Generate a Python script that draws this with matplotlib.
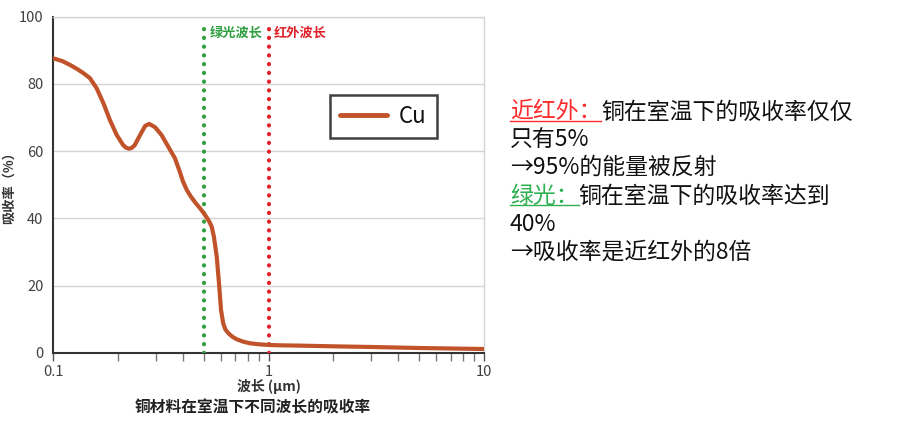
import matplotlib
matplotlib.use("Agg")
import matplotlib.pyplot as plt
from matplotlib.lines import Line2D

plt.rcParams['font.family'] = ['Noto Sans CJK SC', 'DejaVu Sans']

# ---- data ----
wavelength = [0.100, 0.110, 0.120, 0.130, 0.138, 0.148, 0.159, 0.171, 0.183, 0.197,
              0.211, 0.218, 0.225, 0.232, 0.239, 0.253, 0.267, 0.279, 0.297, 0.318,
              0.342, 0.367, 0.385, 0.400, 0.417, 0.435, 0.460, 0.480, 0.500, 0.515,
              0.530, 0.544, 0.557, 0.574, 0.588, 0.601, 0.615, 0.630, 0.650, 0.680,
              0.711, 0.760, 0.819, 0.900, 1.00, 1.13, 1.40, 2.0, 3.0, 5.0, 7.0, 10.0]
absorption = [87.6, 86.8, 85.6, 84.3, 83.2, 81.7, 78.7, 74.2, 69.3, 64.8,
              61.8, 61.0, 60.7, 61.0, 61.8, 64.8, 67.5, 68.1, 67.1, 64.8,
              61.3, 57.9, 54.2, 51.0, 48.4, 46.5, 44.4, 43.0, 41.5, 40.3,
              39.0, 37.5, 34.5, 28.6, 20.7, 12.7, 8.75, 6.9, 5.8, 4.7,
              4.0, 3.3, 2.8, 2.5, 2.3, 2.2, 2.1, 1.9, 1.7, 1.4, 1.25, 1.1]
green_wl = 0.5
ir_wl = 1.0
yticks = [0, 20, 40, 60, 80, 100]
xticks = [0.1, 1, 10]
xticklabels = ['0.1', '1', '10']

W, H = 904, 426
fig = plt.figure(figsize=(W / 100, H / 100), dpi=100)
ax = fig.add_axes([53.3 / W, 1 - 352.7 / H, (484 - 53.3) / W, (352.7 - 16.7) / H])

curve_color = '#C0532A'
green = '#2E9E3E'
red = '#E0202A'

ax.plot(wavelength, absorption, color=curve_color, lw=3.0, solid_capstyle='round',
        solid_joinstyle='round', zorder=4, label='Cu')
ax.axvline(green_wl, ymax=0.985, color=green, lw=3.0, linestyle=(0, (0.05, 2.05)),
           dash_capstyle='round', zorder=3)
ax.axvline(ir_wl, ymax=0.985, color=red, lw=3.0, linestyle=(0, (0.05, 2.05)),
           dash_capstyle='round', zorder=3)

ax.set_xscale('log')
ax.set_xlim(0.1, 10)
ax.set_ylim(0, 100)
ax.set_yticks(yticks)
ax.set_xticks(xticks)
ax.set_xticklabels(xticklabels)
ax.grid(axis='y', color='#d4d4d4', lw=1.0)
ax.set_axisbelow(True)

for s in ['left', 'bottom']:
    ax.spines[s].set_color('#333333')
    ax.spines[s].set_linewidth(1.5)
for s in ['top', 'right']:
    ax.spines[s].set_color('#d4d4d4')
    ax.spines[s].set_linewidth(1.0)

ax.tick_params(axis='y', length=0, pad=7, labelsize=10.5, labelcolor='#404040')
ax.tick_params(axis='x', which='major', length=6, width=1, color='#555555',
               pad=3, labelsize=10.5, labelcolor='#404040', direction='out')
ax.tick_params(axis='x', which='minor', length=6, width=1, color='#777777', direction='out')
ax.xaxis.set_minor_formatter(matplotlib.ticker.NullFormatter())

ax.set_xlabel('波长 (μm)', fontsize=10, fontweight='bold', color='#333333', labelpad=0)
ax.set_ylabel('吸收率（%）', fontsize=9.5, fontweight='bold', color='#333333', labelpad=2)

ax.text(0.53, 95.1, '绿光波长', color=green, fontsize=9.5, fontweight='bold',
        ha='left', va='center')
ax.text(1.06, 95.1, '红外波长', color=red, fontsize=9.5, fontweight='bold',
        ha='left', va='center')

leg = ax.legend(loc='upper left', bbox_to_anchor=((330 - 53.3) / (484 - 53.3),
                                                  1 - (95 - 16.7) / (352.7 - 16.7)),
                fontsize=16, frameon=True, fancybox=False, handlelength=2.1,
                handletextpad=0.55, borderpad=0.45, borderaxespad=0)
leg.get_frame().set_edgecolor('#111111')
leg.get_frame().set_linewidth(1.8)
for t in leg.get_texts():
    t.set_color('#111111')
for h in leg.get_lines():
    h.set_linewidth(3.5)

fig.text(253 / W, 1 - 407 / H, '铜材料在室温下不同波长的吸收率', fontsize=11.3,
         fontweight='bold', color='#222222', ha='center', va='center')

# ---- right-hand notes ----
fs = 16.5
x0 = 510 / W
text_red = '#FF2A2A'
text_green = '#2DB050'
lines = [
    [('近红外：', text_red, True), ('铜在室温下的吸收率仅仅', '#111111', False)],
    [('只有5%', '#111111', False)],
    [('→95%的能量被反射', '#111111', False)],
    [('绿光：', text_green, True), ('铜在室温下的吸收率达到', '#111111', False)],
    [('40%', '#111111', False)],
    [('→吸收率是近红外的8倍', '#111111', False)],
]
ys = [112, 140, 167, 196, 224, 252]
fig.canvas.draw()
r = fig.canvas.get_renderer()
for parts, yc in zip(lines, ys):
    x = x0
    for s, c, ul in parts:
        t = fig.text(x, 1 - yc / H, s, fontsize=fs, color=c, ha='left', va='center')
        bb = t.get_window_extent(renderer=r)
        if ul:
            yu = 1 - (yc + 9) / H
            fig.add_artist(Line2D([bb.x0 / W, bb.x1 / W], [yu, yu], color=c, lw=1.0,
                                  transform=fig.transFigure))
        x = bb.x1 / W

fig.savefig('out.png', dpi=100)
